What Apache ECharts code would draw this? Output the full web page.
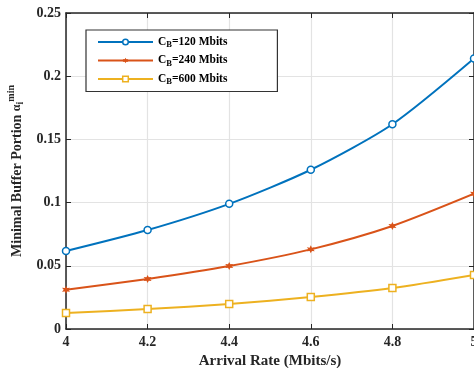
<!DOCTYPE html>
<html><head><meta charset="utf-8">
<script src="https://cdn.jsdelivr.net/npm/echarts@6/dist/echarts.min.js"></script>
<style>html,body{margin:0;padding:0;background:#fff}#c{width:474px;height:368px}</style>
</head><body><div id="c"></div>
<script>
const categories = [4, 4.2, 4.4, 4.6, 4.8, 5];
const seriesNames = ['120', '240', '600'];
const cb120 = [0.0617, 0.0783, 0.0990, 0.1260, 0.1620, 0.2140];
const cb240 = [0.0310, 0.0396, 0.0498, 0.0630, 0.0815, 0.1070];
const cb600 = [0.0127, 0.0158, 0.0198, 0.0253, 0.0324, 0.0427];
const xTicks = ['4', '4.2', '4.4', '4.6', '4.8', '5'];
const yTicks = ['0', '0.05', '0.1', '0.15', '0.2', '0.25'];

const font = 'Liberation Serif';
const colors = ['#0072BD', '#D95319', '#EDB120'];
const symbols = ['circle', 'path://M0,-10L2.5,-4.3L8.7,-5L5,0L8.7,5L2.5,4.3L0,10L-2.5,4.3L-8.7,5L-5,0L-8.7,-5L-2.5,-4.3Z', 'rect'];
const datas = [cb120, cb240, cb600];

function pairs(arr){ return categories.map((x,i)=>[x, arr[i]]); }

const axisLineStyle = {color: '#262626', width: 1.5};
const chart = echarts.init(document.getElementById('c'));
chart.setOption({
  animation: false,
  grid: {left: 66, right: 0, top: 13, bottom: 39, containLabel: false, outerBoundsMode: 'none'},
  legend: {
    orient: 'vertical', left: 86, top: 30,
    backgroundColor: '#fff', borderColor: '#333', borderWidth: 1.2,
    padding: [6, 50, 5, 11], itemGap: 5, itemWidth: 55, itemHeight: 7,
    data: seriesNames.map((n, k) => ({name: 'C_B=' + n + ' Mbits', itemStyle: {borderWidth: k === 1 ? 0 : 1.5}})),
    formatter: function(name){ const v = name.split('=')[1]; return '{c|C}{b|B}{c|=' + v + '}'; },
    textStyle: {
      fontFamily: font, fontWeight: 'bold', fontSize: 11.5, color: '#000',
      rich: {
        c: {fontFamily: font, fontWeight: 'bold', fontSize: 11.5, color: '#000'},
        b: {fontFamily: font, fontWeight: 'bold', fontSize: 8.5, color: '#000', padding: [6,0,0,0]}
      }
    }
  },
  xAxis: [{
    type: 'value', min: 4, max: 5, interval: 0.2,
    name: 'Arrival Rate (Mbits/s)', nameLocation: 'middle', nameGap: 24,
    nameTextStyle: {fontFamily: font, fontWeight: 'bold', fontSize: 15, color: '#262626'},
    axisLine: {show: true, onZero: false, lineStyle: axisLineStyle},
    axisTick: {show: true, inside: true, length: 5, lineStyle: {color: '#262626'}},
    axisLabel: {fontFamily: font, fontWeight: 'bold', fontSize: 14, color: '#262626', margin: 6,
      formatter: function(v){ const i = Math.round((v-4)/0.2); return xTicks[i]; }},
    splitLine: {show: true, lineStyle: {color: '#e3e3e3', width: 1.2}}
  }, {
    type: 'value', min: 4, max: 5, interval: 0.2, position: 'top',
    axisLine: {show: true, onZero: false, lineStyle: axisLineStyle},
    axisTick: {show: true, inside: true, length: 5, lineStyle: {color: '#262626'}},
    axisLabel: {show: false}, splitLine: {show: false}
  }],
  yAxis: [{
    type: 'value', min: 0, max: 0.25, interval: 0.05,
    name: '{t|Minimal Buffer Portion }{a|α}{s|i}{p|min}', nameLocation: 'middle', nameGap: 32,
    nameTextStyle: {
      fontFamily: font, fontWeight: 'bold', fontSize: 14, color: '#262626',
      rich: {
        t: {fontFamily: font, fontWeight: 'bold', fontSize: 14, color: '#262626'},
        a: {fontFamily: font, fontSize: 12, color: '#262626'},
        s: {fontFamily: font, fontWeight: 'bold', fontSize: 10, color: '#262626', padding: [7,0,0,0]},
        p: {fontFamily: font, fontWeight: 'bold', fontSize: 10, color: '#262626', padding: [0,0,11,0]}
      }
    },
    axisLine: {show: true, onZero: false, lineStyle: axisLineStyle},
    axisTick: {show: true, inside: true, length: 5, lineStyle: {color: '#262626'}},
    axisLabel: {fontFamily: font, fontWeight: 'bold', fontSize: 14, color: '#262626', margin: 5,
      formatter: function(v){ const i = Math.round(v/0.05); return yTicks[i]; }},
    splitLine: {show: true, lineStyle: {color: '#e3e3e3', width: 1.2}}
  }, {
    type: 'value', min: 0, max: 0.25, interval: 0.05, position: 'right',
    axisLine: {show: true, onZero: false, lineStyle: axisLineStyle},
    axisTick: {show: true, inside: true, length: 5, lineStyle: {color: '#262626'}},
    axisLabel: {show: false}, splitLine: {show: false}
  }],
  series: datas.map((d, k) => ({
    name: 'C_B=' + seriesNames[k] + ' Mbits',
    type: 'line',
    data: pairs(d),
    smooth: 0.25,
    symbol: symbols[k],
    symbolSize: k === 1 ? 8 : 7,
    showAllSymbol: true,
    color: colors[k],
    legendIcon: symbols[k],
    lineStyle: {color: colors[k], width: 2},
    itemStyle: {color: k === 1 ? colors[k] : '#fff', borderColor: colors[k], borderWidth: k === 1 ? 0 : 1.5},
    clip: false,
    z: 3 + (2 - k)
  }))
});
</script></body></html>
